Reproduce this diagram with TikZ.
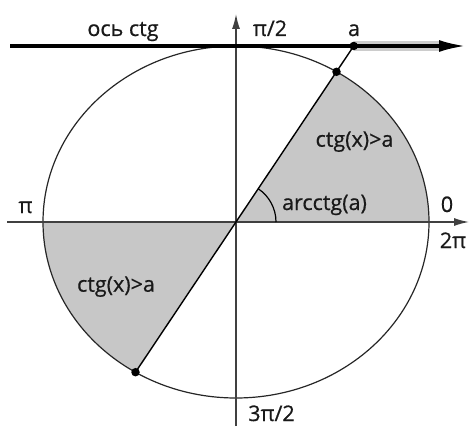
\documentclass[tikz,border=0pt]{standalone}
\usepackage{fontspec}
\setmainfont{Open Sans}
\newfontfamily\lblfont{Open Sans}[FakeBold=0.6]
\usetikzlibrary{arrows.meta}
\begin{document}
\begin{tikzpicture}[x=1pt,y=1pt,
 axis/.style={draw=black!75, line width=1.4pt, -{Latex[length=15pt,width=8pt]}},
 lbl/.style={font=\lblfont\fontsize{21.5}{24}\selectfont, inner sep=0pt, anchor=base, text=black!90},
 dot/.style={circle, fill=black, inner sep=0pt, minimum size=8.5pt},
 sector/.style={fill=black!22}]
\useasboundingbox (0,0) rectangle (470,426);
\coordinate (C) at (236,204);
% shaded sectors
\fill[sector] (C) -- ++(193,0) arc[start angle=0,end angle=58.62,x radius=193,y radius=176] -- cycle;
\fill[sector] (C) -- ++(-193,0) arc[start angle=180,end angle=238.62,x radius=193,y radius=176] -- cycle;
% circle
\draw[line width=1.2pt, black!85] (C) ellipse[x radius=193,y radius=176];
% axes
\coordinate (xs) at (7,204); \coordinate (xe) at (469,204);
\coordinate (ys) at (236,0); \coordinate (ye) at (236,412);
\draw[axis] (xs) -- (xe);
\draw[axis] (ys) -- (ye);
% cot axis
\coordinate (cs) at (10,380); \coordinate (ce) at (466,380);
\coordinate (gs) at (353.7,380); \coordinate (ge) at (442,380);
\draw[line width=9.5pt, black!20] (gs) -- (ge);
\draw[line width=3.4pt, -{Latex[length=27pt,width=12pt]}] (cs) -- (ce);
% points
\node[dot] (P1) at (336.5,354.2) {};
\node[dot] (P2) at (135.5,53.8) {};
\node[dot] (A) at (353.7,380) {};
\draw[line width=1.4pt] (P2.center) -- (A.center);
% angle arc
\draw[line width=1.2pt] (C) ++(40,0) arc[start angle=0,end angle=56.2,radius=40];
% labels
\node[lbl] (lcot) at (123,390) {ось ctg};
\node[lbl] (lpi2) at (270,390) {π/2};
\node[lbl] (la) at (354,390) {a};
\node[lbl] (lpi) at (25.5,213) {π};
\node[lbl] (l0) at (447,214) {0};
\node[lbl] (l2pi) at (453,178) {2π};
\node[lbl] (larc) at (324.5,216) {arcctg(a)};
\node[lbl] (lup) at (354.5,279.3) {ctg(x)>a};
\node[lbl] (llow) at (116,134.3) {ctg(x)>a};
\node[lbl] (l3pi2) at (271.5,5) {3π/2};
\end{tikzpicture}
\end{document}
